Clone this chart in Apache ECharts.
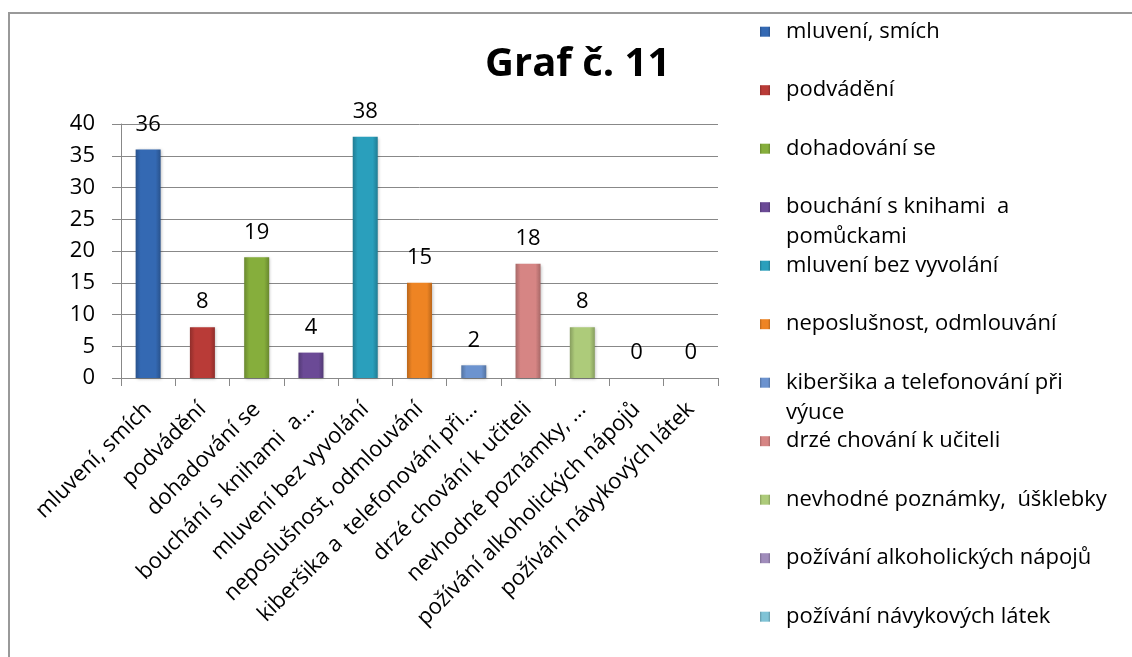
<!DOCTYPE html>
<html>
<head>
<meta charset="utf-8">
<script src="https://cdn.jsdelivr.net/npm/echarts@6/dist/echarts.min.js"></script>
<style>
    html, body {margin: 0; padding: 0; background: #fff;}
    #graf11 {width: 1132px; height: 657px;}
</style>
</head>
<body>
<div id="graf11"></div>
<script>
// Graf č. 11 - přestupky při výuce
const categories = [
    'mluvení, smích',
    'podvádění',
    'dohadování se',
    'bouchání s knihami  a pomůckami',
    'mluvení bez vyvolání',
    'neposlušnost, odmlouvání',
    'kiberšika a telefonování při výuce',
    'drzé chování k učiteli',
    'nevhodné poznámky, úšklebky',
    'požívání alkoholických nápojů',
    'požívání návykových látek',
];
const tickLabels = [
    'mluvení, smích',
    'podvádění',
    'dohadování se',
    'bouchání s knihami  a...',
    'mluvení bez vyvolání',
    'neposlušnost, odmlouvání',
    'kiberšika a  telefonování při...',
    'drzé chování k učiteli',
    'nevhodné poznámky, ...',
    'požívání alkoholických nápojů',
    'požívání návykových látek',
];
const legendLabels = [
    'mluvení, smích',
    'podvádění',
    'dohadování se',
    'bouchání s knihami  a\npomůckami',
    'mluvení bez vyvolání',
    'neposlušnost, odmlouvání',
    'kiberšika a telefonování při\nvýuce',
    'drzé chování k učiteli',
    'nevhodné poznámky,  úšklebky',
    'požívání alkoholických nápojů',
    'požívání návykových látek',
];
const values = [36, 8, 19, 4, 38, 15, 2, 18, 8, 0, 0];
const barColors = ['#3469b3', '#b93b37', '#86ae3c', '#6b4a96', '#2a9fbc', '#ee8423',
    '#6c93cf', '#d68584', '#adcb7a', '#a08cbb', '#7fc3d6'];

const font = 'Open Sans';
const lineH = 30;

// tmavší odstín pro okraje sloupce
const shade = (hex, f) => {
    const n = parseInt(hex.slice(1), 16);
    const r = Math.round(((n >> 16) & 255) * f);
    const g = Math.round(((n >> 8) & 255) * f);
    const b = Math.round((n & 255) * f);
    return 'rgb(' + r + ',' + g + ',' + b + ')';
};

const myChart = echarts.init(document.getElementById('graf11'));

const series = categories.map((name, i) => ({
    name: name,
    type: 'bar',
    stack: 'all',
    barWidth: 25,
    data: values.map((v, j) => (j === i ? v : '-')),
    itemStyle: {
        color: new echarts.graphic.LinearGradient(0, 0, 1, 0, [
            {offset: 0, color: shade(barColors[i], 0.78)},
            {offset: 0.2, color: barColors[i]},
            {offset: 0.8, color: barColors[i]},
            {offset: 1, color: shade(barColors[i], 0.78)},
        ]),
        shadowColor: 'rgba(0,0,0,0.25)',
        shadowBlur: 3,
        shadowOffsetX: 1,
        shadowOffsetY: 1,
    },
    label: {
        show: true,
        position: 'top',
        distance: 14,
        color: '#000',
        fontSize: 22,
        fontFamily: font,
    },
}));

// každá položka legendy zvlášť, aby dvouřádkové položky neposouvaly ostatní
const legends = categories.map((name, i) => {
    const lines = legendLabels[i].split('\n').length;
    const boxH = lines > 1 ? lineH * (lines * 2 - 1) : lineH;
    return {
        data: [name],
        orient: 'vertical',
        left: 760,
        top: 31.7 + 58.5 * i - boxH / 2,
        padding: 0,
        itemWidth: 10,
        itemHeight: 10,
        icon: 'rect',
        selectedMode: false,
        formatter: () => (lines > 1 ? '\n'.repeat(lines - 1) + legendLabels[i] : legendLabels[i]),
        textStyle: {
            color: '#000',
            fontSize: 22,
            fontFamily: font,
            lineHeight: lineH,
            padding: [0, 0, 0, 11],
        },
    };
});

const option = {
    animation: false,
    backgroundColor: '#fff',
    title: {
        text: 'Graf č. 11',
        left: 480,
        top: 40,
        textStyle: {
            color: '#000',
            fontSize: 40,
            fontWeight: 'bold',
            fontFamily: font,
        },
    },
    legend: legends,
    grid: {
        left: 121,
        right: 414,
        top: 124,
        bottom: 279,
    },
    xAxis: {
        type: 'category',
        data: categories,
        axisLine: {lineStyle: {color: '#888', width: 1}},
        axisTick: {show: true, length: 8, lineStyle: {color: '#888'}},
        axisLabel: {
            interval: 0,
            rotate: 45,
            margin: 28,
            color: '#000',
            fontSize: 22,
            fontFamily: font,
            formatter: (v, idx) => tickLabels[idx],
        },
    },
    yAxis: {
        type: 'value',
        min: 0,
        max: 40,
        interval: 5,
        axisLine: {show: true, lineStyle: {color: '#888', width: 1}},
        axisTick: {show: true, length: 9, lineStyle: {color: '#888'}},
        splitLine: {lineStyle: {color: '#888', width: 1}},
        axisLabel: {
            margin: 26,
            color: '#000',
            fontSize: 22,
            fontFamily: font,
        },
    },
    graphic: [{
        type: 'rect',
        shape: {x: 9, y: 13, width: 1200, height: 700},
        style: {fill: 'none', stroke: '#999', lineWidth: 2},
        silent: true,
        z: 100,
    }],
    series: series,
};

myChart.setOption(option);
</script>
</body>
</html>
